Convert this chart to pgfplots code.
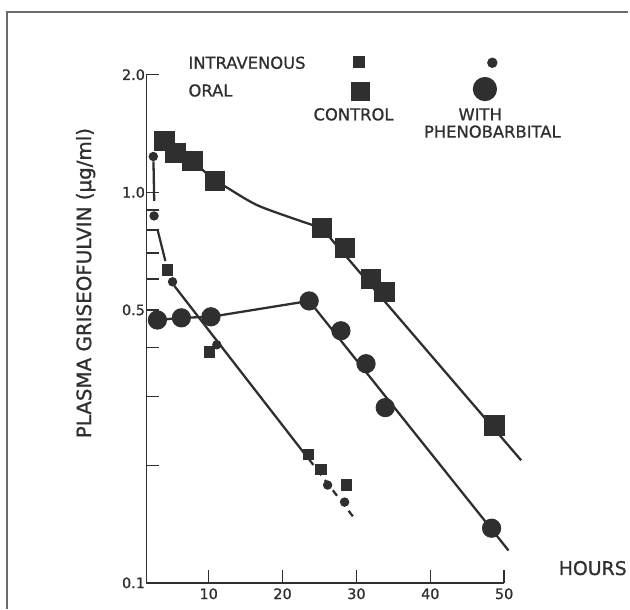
\documentclass[border=0pt]{standalone}
\usepackage{fontspec}
\setmainfont{DejaVu Sans}[FakeBold=0.9]
\usepackage{pgfplots}
\pgfplotsset{compat=1.18}
\definecolor{ink}{HTML}{2F2F2F}
\definecolor{frame}{HTML}{6A6A6A}

\begin{document}
\begin{tikzpicture}
\begin{axis}[
  scale only axis, width=359bp, height=510bp,
  at={(0bp,0bp)}, anchor=south west,
  xmin=1.57, xmax=50, ymode=log, ymin=0.1, ymax=2.0,
  axis x line=bottom, axis y line=left,
  axis line style={-, line width=1.7bp, ink},
  xtick={10,20,30,40,50},
  ytick={0.1,0.5,1,2}, yticklabels={0.1,0.5,1.0,2.0},
  minor ytick={0.2,0.3,0.4,0.6,0.7,0.8,0.9},
  tick align=inside, major tick length=13bp, minor tick length=13bp,
  tick style={line width=1.5bp, ink},
  every tick/.style={line width=1.5bp, ink},
  minor tick style={line width=1.5bp, ink},
  /pgf/number format/assume math mode=true,
  ticklabel style={font=\fontsize{14.5}{14.5}\selectfont, text=ink},
  xticklabel style={yshift=-2bp},
  yticklabel style={xshift=2bp},
  ylabel={PLASMA GRISEOFULVIN (μg/ml)},
  ylabel style={at={(rel axis cs:-0.170,0.590)}, anchor=center, rotate=0,
     font=\fontsize{20}{20}\selectfont, text=ink},
  xlabel={HOURS},
  xlabel style={at={(rel axis cs:1.143,0.029)}, anchor=west,
     font=\fontsize{19}{19}\selectfont, text=ink},
  clip=false,
  every axis plot/.append style={ink, line width=2.3bp},
]
% ---- fitted curves ----
% oral control
\addplot[mark=none] coordinates {(4.0,1.35) (5.5,1.26) (7.8,1.20) (10.9,1.07)};
\addplot[mark=none, smooth] coordinates {(10.9,1.07) (12.4,1.03) (16.4,0.93) (20.9,0.864) (25.3,0.81)};
\addplot[mark=none] coordinates {(25.3,0.81) (52.3,0.206)};
% oral phenobarbital
\addplot[mark=none] coordinates {(3.05,0.471) (6.3,0.477) (10.3,0.48) (23.6,0.527)};
\addplot[mark=none] coordinates {(23.6,0.527) (50.6,0.121)};
% intravenous
\addplot[mark=none] coordinates {(2.52,1.20) (2.62,0.95)};
\addplot[mark=none] coordinates {(3.05,0.805) (4.13,0.667)};
\addplot[mark=none] coordinates {(5.34,0.576) (22.9,0.215)};
\addplot[mark=none, dash pattern=on 7bp off 6bp] coordinates {(23.6,0.207) (30.0,0.144)};

% ---- data ----
% oral control
\addplot[only marks, mark=square*, mark size=9bp] coordinates {
 (4.0,1.35) (5.5,1.26) (7.8,1.20) (10.9,1.07) (25.3,0.81) (28.5,0.72) (32.0,0.60) (33.8,0.556) (48.7,0.253)};
% oral phenobarbital
\addplot[only marks, mark=*, mark size=8.5bp] coordinates {
 (3.05,0.471) (6.3,0.477) (10.3,0.48) (23.6,0.527) (27.9,0.442) (31.3,0.364) (33.9,0.281) (48.3,0.138)};
% intravenous control
\addplot[only marks, mark=square*, mark size=4.5bp] coordinates {
 (4.4,0.632) (10.1,0.39) (23.5,0.213) (25.2,0.195) (28.7,0.178)};
% intravenous phenobarbital
\addplot[only marks, mark=*, mark size=3.5bp] coordinates {
 (2.5,1.235) (2.6,0.87) (5.1,0.59) (11.1,0.407) (26.1,0.178) (28.4,0.161)};

% ---- legend keys ----
\addplot[only marks, mark=square*, mark size=5bp, forget plot] coordinates {(30.3,2.158)};
\addplot[only marks, mark=*, mark size=4bp, forget plot] coordinates {(48.4,2.146)};
\addplot[only marks, mark=square*, mark size=8.5bp, forget plot] coordinates {(30.6,1.81)};
\addplot[only marks, mark=*, mark size=11bp, forget plot] coordinates {(47.4,1.838)};

\begin{scope}[every node/.style={font=\fontsize{16.5}{16.5}\selectfont, text=ink, inner sep=0pt}]
\node[anchor=west] at (rel axis cs:0.117,1.0235) {INTRAVENOUS};
\node[anchor=west] at (rel axis cs:0.117,0.969) {ORAL};
\node at (rel axis cs:0.579,0.922) {CONTROL};
\node at (rel axis cs:0.933,0.922) {WITH};
\node at (rel axis cs:0.967,0.888) {PHENOBARBITAL};
\end{scope}
\end{axis}
\draw[frame, line width=1.5bp] (-140bp,-26bp) -- (-140bp,573bp) -- (483bp,573bp);
\path[use as bounding box] (-147bp,-26bp) rectangle (483bp,585bp);
\end{tikzpicture}
\end{document}
